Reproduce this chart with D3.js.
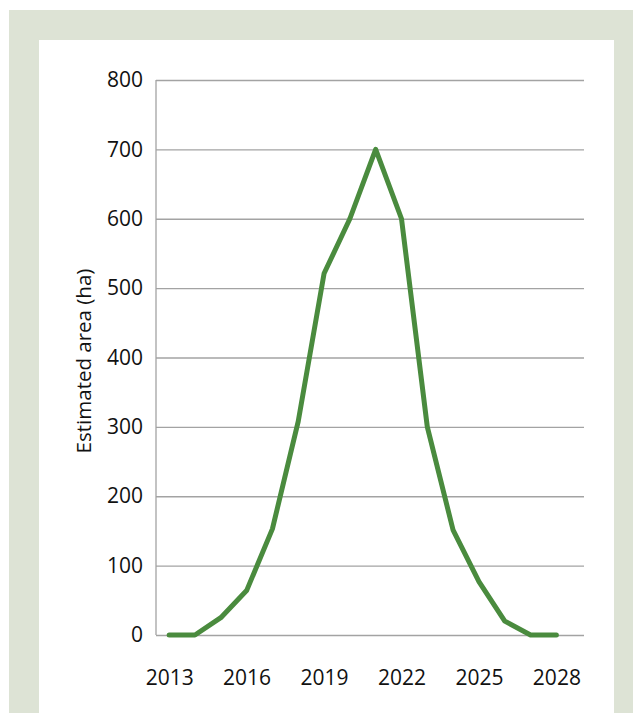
<!DOCTYPE html>
<html>
<head>
<meta charset="utf-8">
<script src="https://cdn.jsdelivr.net/npm/d3@7"></script>
<style>
  html, body { margin: 0; padding: 0; background: #ffffff; }
  svg { display: block; }
</style>
</head>
<body>
<svg id="chart" width="633" height="713"></svg>
<script>
const years = [2013, 2014, 2015, 2016, 2017, 2018, 2019, 2020, 2021, 2022, 2023, 2024, 2025, 2026, 2027, 2028];
const areaHa = [0, 0, 25, 64, 153, 308, 521, 600, 700, 600, 300, 151, 77, 20, 0, 0];
const xTickLabels = [2013, 2016, 2019, 2022, 2025, 2028];
const yTickValues = [0, 100, 200, 300, 400, 500, 600, 700, 800];
const yTitle = "Estimated area (ha)";

const svg = d3.select("#chart");
const W = 633, H = 713;
const font = "'Open Sans', 'Noto Sans', sans-serif";

// Outer frame background and white panel
svg.append("rect").attr("x", 9).attr("y", 10).attr("width", W - 9).attr("height", H - 10).attr("fill", "#dde3d5");
svg.append("rect").attr("x", 39).attr("y", 40).attr("width", 575).attr("height", H - 40).attr("fill", "#ffffff");

const plot = { left: 156, right: 584, top: 80, bottom: 635 };

const x = d3.scaleLinear().domain([2012.49, 2029.07]).range([plot.left, plot.right]);
const y = d3.scaleLinear().domain([0, 800]).range([plot.bottom, plot.top]);

// Gridlines
const yAxis = d3.axisLeft(y).tickValues(yTickValues).tickSize(-(plot.right - plot.left)).tickPadding(12).tickFormat(d3.format("d"));
const gy = svg.append("g").attr("transform", `translate(${plot.left},0)`).call(yAxis);
gy.select(".domain").remove();
gy.selectAll(".tick line").attr("stroke", "#a3a3a3").attr("stroke-width", 1.3);
gy.selectAll(".tick text").attr("font-family", font).attr("font-size", 21).attr("fill", "#111").attr("x", -13);

// Vertical axis line
svg.append("line")
  .attr("x1", plot.left).attr("x2", plot.left)
  .attr("y1", plot.top).attr("y2", plot.bottom)
  .attr("stroke", "#a3a3a3").attr("stroke-width", 1.3);

// X axis labels
const xAxis = d3.axisBottom(x).tickValues(xTickLabels).tickSize(0).tickPadding(0).tickFormat(d3.format("d"));
const gx = svg.append("g").attr("transform", `translate(0,${plot.bottom})`).call(xAxis);
gx.select(".domain").remove();
gx.selectAll(".tick text").attr("font-family", font).attr("font-size", 21).attr("fill", "#111").attr("dy", null).attr("y", 50);

// Y axis title
svg.append("text")
  .attr("transform", `translate(91,361) rotate(-90)`)
  .attr("text-anchor", "middle")
  .attr("font-family", font).attr("font-size", 20.5).attr("fill", "#111")
  .text(yTitle);

// Line
const line = d3.line().x((d, i) => x(years[i])).y(d => y(d));
svg.append("path")
  .datum(areaHa)
  .attr("d", line)
  .attr("fill", "none")
  .attr("stroke", "#4a8b3e")
  .attr("stroke-width", 5)
  .attr("stroke-linejoin", "round")
  .attr("stroke-linecap", "round");
</script>
</body>
</html>
